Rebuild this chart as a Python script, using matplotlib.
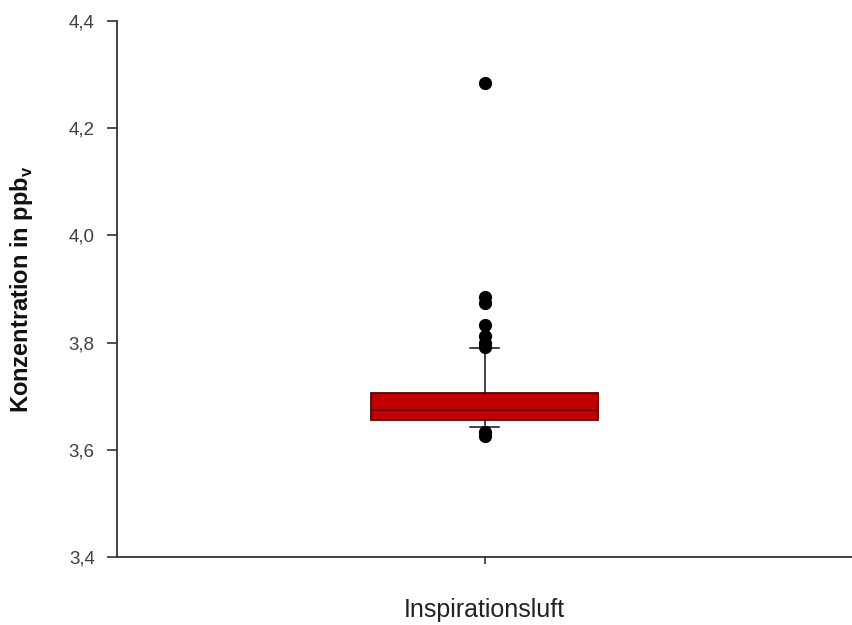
import matplotlib
matplotlib.use("Agg")
import matplotlib.pyplot as plt
from matplotlib.ticker import FuncFormatter

plt.rcParams['font.family'] = ['Liberation Sans', 'DejaVu Sans']

category = "Inspirationsluft"
q1 = 3.656
median = 3.674
q3 = 3.706
whislo = 3.643
whishi = 3.790
fliers = [4.284, 3.885, 3.874, 3.833, 3.812, 3.800, 3.792, 3.633, 3.626]
yticks = [3.4, 3.6, 3.8, 4.0, 4.2, 4.4]

fig = plt.figure(figsize=(8.52, 6.25), dpi=100)
ax = fig.add_axes([117/852, 1-557/625, (852-117)/852, (557-21)/625])

stats = [dict(med=median, q1=q1, q3=q3, whislo=whislo, whishi=whishi,
              fliers=fliers, label=category)]
ax.bxp(stats, positions=[0], widths=0.62, patch_artist=True, capwidths=0.08,
       boxprops=dict(facecolor='#c00000', edgecolor='#5a0000', linewidth=1.3),
       medianprops=dict(color='#5a0000', linewidth=1.4),
       whiskerprops=dict(color='#111111', linewidth=1.1),
       capprops=dict(color='#111111', linewidth=1.1),
       flierprops=dict(marker='o', markerfacecolor='black', markeredgecolor='black',
                       markersize=8.5, linestyle='none'))

ax.set_xlim(-1, 1)
ax.set_ylim(3.4, 4.4)
ax.set_yticks(yticks)
ax.yaxis.set_major_formatter(FuncFormatter(lambda v, p: f"{v:.1f}".replace('.', ',')))
ax.set_xticks([0])
ax.set_xticklabels([''])
ax.set_xlabel(category, fontsize=18, labelpad=21, color='#222222')
ax.set_ylabel(r'Konzentration in ppb$_\mathregular{v}$', fontsize=17, fontweight='bold',
              labelpad=24, color='#111111')

for s in ['top', 'right']:
    ax.spines[s].set_visible(False)
for s in ['left', 'bottom']:
    ax.spines[s].set_color('#333333')
    ax.spines[s].set_linewidth(1.3)
ax.tick_params(axis='y', direction='out', length=7, width=1.2, labelsize=13.5,
               colors='#333333', labelcolor='#404040', pad=9)
ax.tick_params(axis='x', direction='out', length=5, width=1.2, colors='#333333')

fig.savefig('out.png', dpi=100)
